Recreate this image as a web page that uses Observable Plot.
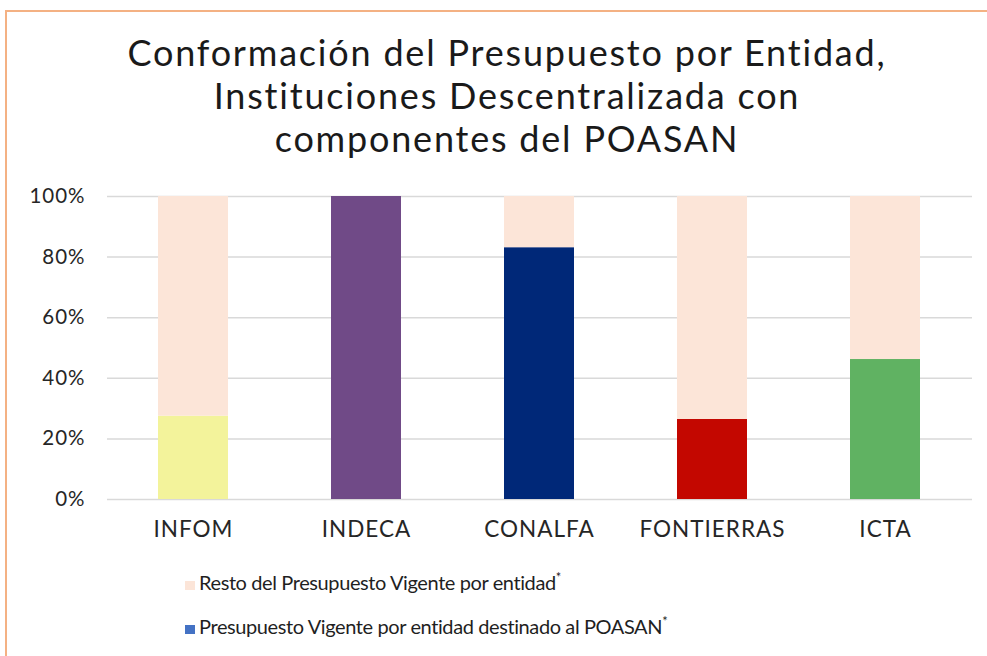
<!DOCTYPE html>
<html>
<head>
<meta charset="utf-8">
<script src="https://cdn.jsdelivr.net/npm/d3@7"></script>
<script src="https://cdn.jsdelivr.net/npm/@observablehq/plot@0.6"></script>
<style>
  html, body { margin: 0; padding: 0; background: #fff; }
  body { width: 987px; height: 656px; position: relative; overflow: hidden; font-family: Lato, "Open Sans", sans-serif; color: #1f1f1f; }
  #frame { position: absolute; left: 5px; top: 10px; width: 1200px; height: 800px; border-left: 2px solid #F4B183; border-top: 2px solid #F4B183; box-sizing: border-box; }
  #title { position: absolute; left: 0; width: 1014px; top: 31px; text-align: center; font-size: 36px; line-height: 43px; letter-spacing: 1.8px; color: #1a1a1a; }
  #chart { position: absolute; left: 0; top: 170px; }
  #chart svg text { letter-spacing: 1px; }
  .leg { position: absolute; left: 185px; font-size: 20px; letter-spacing: -0.4px; color: #1f1f1f; white-space: nowrap; }
  .leg .sw { position: absolute; left: 0; width: 10px; height: 9px; }
  .leg .tx { position: absolute; left: 14px; top: 0; }
  .leg sup { font-size: 13px; vertical-align: 8px; }
</style>
</head>
<body>
<div id="frame"></div>
<div id="title"></div>
<div id="chart"></div>
<div id="legend"></div>
<script>
const titleLines = ["Conformación del Presupuesto por Entidad,", "Instituciones Descentralizada con", "componentes del POASAN"];
const entities = ["INFOM", "INDECA", "CONALFA", "FONTIERRAS", "ICTA"];
const poasan = [27.5, 100, 83.1, 26.4, 46.2];
const resto = [72.5, 0, 16.9, 73.6, 53.8];
const poasanColors = ["#F3F39B", "#704A87", "#002878", "#C30700", "#60B262"];
const restoColor = "#FCE5D8";
const legendLabels = ["Resto del Presupuesto Vigente por entidad", "Presupuesto Vigente por entidad destinado al POASAN"];
const legendColors = [restoColor, "#4472C4"];
const yTicks = [0, 20, 40, 60, 80, 100];

document.getElementById("title").innerHTML = titleLines.join("<br>");

const rows = [];
entities.forEach((e, i) => {
  rows.push({entity: e, part: "poasan", value: poasan[i], color: poasanColors[i], order: 0});
  rows.push({entity: e, part: "resto", value: resto[i], color: restoColor, order: 1});
});

const chart = Plot.plot({
  width: 987,
  height: 390,
  marginTop: 26,
  marginBottom: 61,
  marginLeft: 107,
  marginRight: 15,
  style: {fontFamily: "Lato, 'Open Sans', sans-serif", fontSize: "20px", color: "#262626", background: "transparent"},
  x: {domain: entities, paddingInner: 0.595, paddingOuter: 0.2975, label: null},
  y: {domain: [0, 100], label: null},
  color: {type: "identity"},
  marks: [
    Plot.ruleY(yTicks, {stroke: "#D9D9D9", strokeWidth: 1.5}),
    Plot.barY(rows, Plot.stackY({x: "entity", y: "value", fill: "color", order: "order"})),
    Plot.axisY({ticks: yTicks, tickFormat: d => d + "%", tickSize: 0, tickPadding: 22, fontSize: 20.5, label: null}),
    Plot.axisX({tickSize: 0, tickPadding: 22, fontSize: 22.5, label: null})
  ]
});
document.getElementById("chart").appendChild(chart);

const legend = document.getElementById("legend");
const legTops = [569, 613];
legendLabels.forEach((lab, i) => {
  const d = document.createElement("div");
  d.className = "leg";
  d.style.top = legTops[i] + "px";
  d.innerHTML = `<span class="sw" style="background:${legendColors[i]};top:12px"></span><span class="tx">${lab}<sup>*</sup></span>`;
  legend.appendChild(d);
});
</script>
</body>
</html>
